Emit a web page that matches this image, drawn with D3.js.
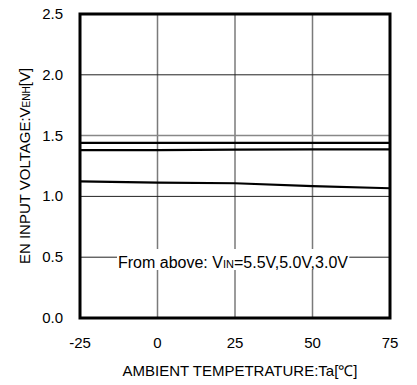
<!DOCTYPE html>
<html>
<head>
<meta charset="utf-8">
<script src="https://cdn.jsdelivr.net/npm/d3@7"></script>
<style>
body{margin:0;background:#fff;}
text{font-family:"Liberation Sans",Arial,sans-serif;fill:#000;}
</style>
</head>
<body>
<script>
var w=417;
var h=385;

// data
var temps=[-25,0,25,50,75];
var v55=[1.44,1.44,1.44,1.44,1.44];
var v50=[1.38,1.38,1.385,1.387,1.387];
var v30=[1.124,1.113,1.108,1.085,1.067];
var xTicks=[-25,0,25,50,75];
var yTicks=[0,0.5,1.0,1.5,2.0,2.5];

var mLeft=80,mRight=390,mTop=14,mBottom=318;
var fs=15;

var svg=d3.select("body").append("svg")
	.attr("width",w).attr("height",h);

var x=d3.scaleLinear().domain([-25,75]).range([mLeft,mRight]);
var y=d3.scaleLinear().domain([0,2.5]).range([mBottom,mTop]);

// grid
svg.selectAll("line.vg")
	.data(xTicks.slice(1,-1))
	.enter().append("line")
	.attr("x1",function(d){return x(d);})
	.attr("x2",function(d){return x(d);})
	.attr("y1",mTop).attr("y2",mBottom)
	.attr("stroke","#7a7a7a").attr("stroke-width",1.5);

svg.selectAll("line.hg")
	.data(yTicks.slice(1,-1))
	.enter().append("line")
	.attr("x1",mLeft).attr("x2",mRight)
	.attr("y1",function(d){return y(d);})
	.attr("y2",function(d){return y(d);})
	.attr("stroke",function(d){return d==1.5?"#888":"#222";})
	.attr("stroke-width",function(d){return d==1.5?1.5:1;});

// curves
var line=d3.line()
	.x(function(d,i){return x(temps[i]);})
	.y(function(d){return y(d);});

[v55,v50,v30].forEach(function(s){
	svg.append("path")
	.attr("d",line(s))
	.attr("fill","none")
	.attr("stroke","#000")
	.attr("stroke-width",2.2);
});

// annotation with white box
var note=svg.append("g");
var nt=note.append("text")
	.attr("x",118).attr("y",268)
	.attr("font-size",16);
nt.append("tspan").text("From above: V");
nt.append("tspan").attr("font-size",11).text("IN");
nt.append("tspan").text("=5.5V,5.0V,3.0V");
var bb=nt.node().getBBox();
note.insert("rect","text")
	.attr("x",bb.x-1).attr("y",249).attr("width",bb.width+2).attr("height",21)
	.attr("fill","#fff");

// frame
svg.append("rect")
	.attr("x",mLeft).attr("y",mTop)
	.attr("width",mRight-mLeft).attr("height",mBottom-mTop)
	.attr("fill","none").attr("stroke","#000").attr("stroke-width",3);

// tick labels
svg.selectAll("text.yt")
	.data(yTicks)
	.enter().append("text")
	.attr("x",63)
	.attr("y",function(d){return y(d)+5;})
	.attr("text-anchor","end")
	.attr("font-size",fs)
	.text(function(d){return d.toFixed(1);});

svg.selectAll("text.xt")
	.data(xTicks)
	.enter().append("text")
	.attr("x",function(d){return x(d);})
	.attr("y",348)
	.attr("text-anchor","middle")
	.attr("font-size",fs)
	.text(function(d){return d;});

// axis titles
svg.append("text")
	.attr("x",240).attr("y",376)
	.attr("text-anchor","middle")
	.attr("font-size",fs)
	.text("AMBIENT TEMPETRATURE:Ta[\u2103]");

var yt=svg.append("text")
	.attr("transform","translate(30,166) rotate(-90)")
	.attr("text-anchor","middle")
	.attr("font-size",fs);
yt.append("tspan").text("EN INPUT VOLTAGE:V");
yt.append("tspan").attr("font-size",10).text("ENH");
yt.append("tspan").text("[V]");
</script>
</body>
</html>
